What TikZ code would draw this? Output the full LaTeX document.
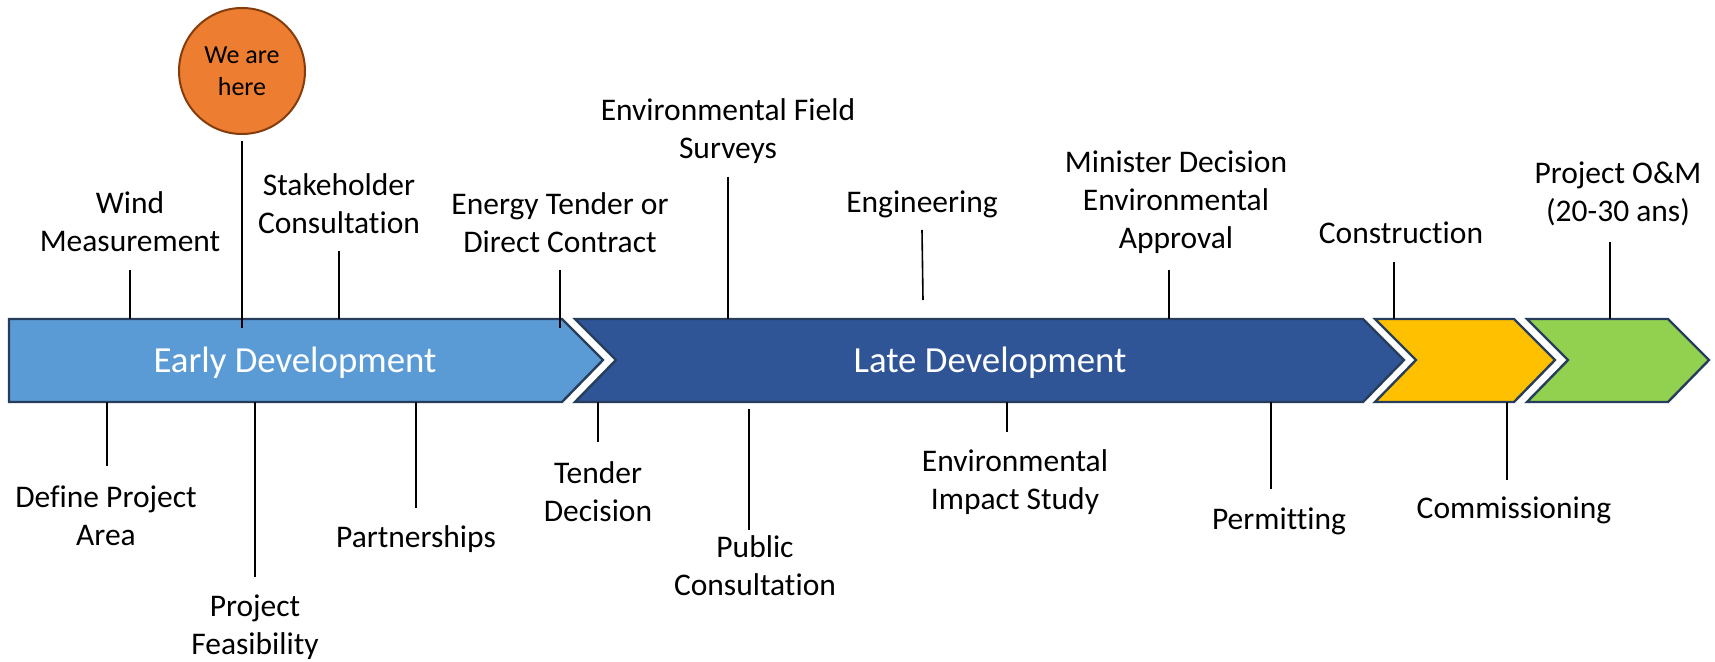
\documentclass[tikz,border=0pt]{standalone}
\usepackage{fontspec}
\setmainfont{Carlito}[Ligatures=NoCommon]
\usetikzlibrary{positioning}
\definecolor{earlyblue}{RGB}{91,155,213}
\definecolor{lateblue}{RGB}{47,85,151}
\definecolor{buildyellow}{RGB}{255,192,0}
\definecolor{omgreen}{RGB}{146,208,80}
\definecolor{edgeblue}{RGB}{38,62,92}
\definecolor{hereorange}{RGB}{237,125,49}
\definecolor{herebrown}{RGB}{132,60,12}

\begin{document}
\begin{tikzpicture}[x=0.5pt, y=-0.5pt,
  phase/.style={draw=edgeblue, line width=1.2pt, line join=miter},
  bandtext/.style={text=white, font=\fontsize{18.4}{22}\selectfont, inner sep=0pt},
  milestone/.style={align=center, font=\fontsize{15.75}{19}\selectfont, inner sep=0pt},
  stem/.style={draw=black, line width=0.8pt}]
\useasboundingbox (0,0) rectangle (1715,662);

% Phase chevrons
\filldraw[phase, fill=earlyblue] (9,319) -- (562,319) -- (603,360) -- (562,402) -- (9,402) -- cycle;
\filldraw[phase, fill=lateblue] (575,319) -- (1363,319) -- (1404,360) -- (1363,402) -- (575,402) -- (616,360) -- cycle;
\filldraw[phase, fill=buildyellow] (1375,319) -- (1514,319) -- (1555,360) -- (1514,402) -- (1375,402) -- (1416,360) -- cycle;
\filldraw[phase, fill=omgreen] (1527,319) -- (1668,319) -- (1709,360) -- (1668,402) -- (1527,402) -- (1568,360) -- cycle;
\node[bandtext] (early) at (295,363) {Early Development};
\node[bandtext] (late) at (990,363) {Late Development};
\coordinate (top) at (0,319);
\coordinate (bot) at (0,402);
\coordinate (dip) at (0,328);

% Marker
\node[circle, draw=herebrown, line width=1pt, fill=hereorange, minimum size=63pt, inner sep=0pt,
  align=center, font=\fontsize{13}{16}\selectfont] (weare) at (242,71) {We are\\here};

% Milestones above the band
\node[milestone] (wind) at (130,222) {Wind\\Measurement};
\node[milestone] (stake) at (339,204) {Stakeholder\\Consultation};
\node[milestone] (energy) at (560,223) {Energy Tender or\\Direct Contract};
\node[milestone] (field) at (728,131) {Environmental Field\\Surveys};
\node[milestone] (engin) at (922,204) {Engineering};
\node[milestone] (minister) at (1176,202) {Minister Decision\\Environmental\\Approval};
\node[milestone] (constr) at (1401,233) {Construction};
\node[milestone] (om) at (1618,194) {Project O\&M\\(20-30 ans)};

% Milestones below the band
\node[milestone] (define) at (106,516) {Define Project\\Area};
\node[milestone] (feas) at (255,627) {Project\\Feasibility};
\node[milestone] (partner) at (416,539) {Partnerships};
\node[milestone] (tender) at (598,492) {Tender\\Decision};
\node[milestone] (public) at (755,566) {Public\\Consultation};
\node[milestone] (impact) at (1015,482) {Environmental\\Impact Study};
\node[milestone] (permit) at (1279,521) {Permitting};
\node[milestone] (commis) at (1514,510) {Commissioning};

% Stems above
\coordinate (s-wind) at (130,270);
\coordinate (s-stake) at (339,251);
\coordinate (s-energy) at (560,270);
\coordinate (s-field) at (728,177);
\coordinate (s-engin) at (922,230);
\coordinate (s-minister) at (1169,270);
\coordinate (s-constr) at (1394,262);
\coordinate (s-om) at (1610,242);
\draw[stem] ([yshift=-3pt]weare.south) -- (weare.south |- dip);
\draw[stem] (s-wind) -- (s-wind |- top);
\draw[stem] (s-stake) -- (s-stake |- top);
\draw[stem] (s-energy) -- (s-energy |- dip);
\draw[stem] (s-field) -- (s-field |- top);
\draw[stem] (s-engin) -- (923,300);
\draw[stem] (s-minister) -- (s-minister |- top);
\draw[stem] (s-constr) -- (s-constr |- top);
\draw[stem] (s-om) -- (s-om |- top);

% Stems below
\coordinate (s-define) at (107,466);
\coordinate (s-feas) at (255,577);
\coordinate (s-partner) at (416,508);
\coordinate (s-tender) at (598,442);
\coordinate (s-public) at (749,530);
\coordinate (s-impact) at (1007,432);
\coordinate (s-permit) at (1271,489);
\coordinate (s-commis) at (1507,480);
\draw[stem] (s-define) -- (s-define |- bot);
\draw[stem] (s-feas) -- (s-feas |- bot);
\draw[stem] (s-partner) -- (s-partner |- bot);
\draw[stem] (s-tender) -- (s-tender |- bot);
\draw[stem] (s-public) -- (749,409);
\draw[stem] (s-impact) -- (s-impact |- bot);
\draw[stem] (s-permit) -- (s-permit |- bot);
\draw[stem] (s-commis) -- (s-commis |- bot);
\end{tikzpicture}
\end{document}
